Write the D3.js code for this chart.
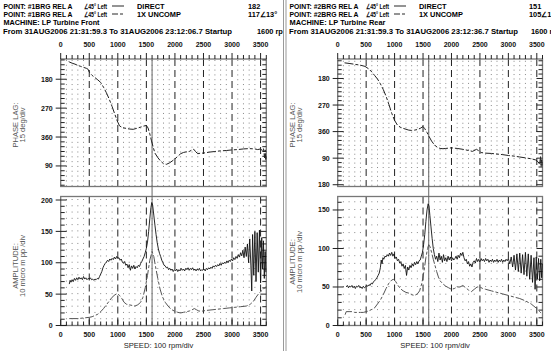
<!DOCTYPE html>
<html><head><meta charset="utf-8">
<script src="https://cdn.jsdelivr.net/npm/d3@7"></script>
<style>
body{margin:0;background:#fff;}
svg{display:block;}
text{font-family:"Liberation Sans",Arial,sans-serif;}
</style></head>
<body><svg id="c" width="551" height="351"></svg>
<script>
// ---------------- DATA ----------------
const rpmTicks = [0,500,1000,1500,2000,2500,3000,3500];
const rpmMax = 3600;
const cursorRpm = 1600;
const phaseTickValues = [180,270,360,450,540];
const phaseTickLabels = ["180","270","360","90","180"];
const ampTicksLeft = [0,50,100,150,200];
const ampTicksRight = [0,50,100,150];

const hdrPoints = [["POINT: #1BRG REL A","POINT: #1BRG REL A"],["POINT: #2BRG REL A","POINT: #2BRG REL A"]];
const hdrOrient = "∠45° Left";
const hdrSeries = ["DIRECT","1X UNCOMP"];
const hdrValues = [["182","117∠13°"],["151","105∠13°"]];
const hdrMachine = ["MACHINE: LP Turbine Front","MACHINE: LP Turbine Rear"];
const hdrRange = ["From 31AUG2006 21:31:59.3 To 31AUG2006 23:12:06.7 Startup","From 31AUG2006 21:31:59.3 To 31AUG2006 23:12:36.7 Startup"];
const hdrCursor = "1600 rpm";
const phaseTitle = ["PHASE LAG:","15 deg/div"];
const ampTitle = ["AMPLITUDE:","10 micro m pp /div"];
const speedTitle = "SPEED: 100 rpm/div";

// phase lag (continuous degrees, 1X UNCOMP)
const leftPhase = [[140,125],[160,127],[200,130],[250,133],[300,137],[350,140],[400,143],[450,146],[480,149],[500,158],[550,168],[600,175],[650,182],[700,190],[750,205],[800,222],[850,242],[900,265],[950,290],[990,310],[1030,325],[1080,331],[1150,333],[1200,335],[1270,336],[1330,333],[1400,329],[1450,326],[1500,324],[1530,332],[1560,350],[1590,372],[1620,392],[1650,410],[1700,424],[1750,435],[1800,443],[1850,445],[1900,441],[1950,435],[2000,428],[2050,420],[2100,412],[2150,408],[2200,406],[2250,405],[2300,400],[2330,398],[2360,405],[2400,412],[2450,410],[2500,410],[2600,407],[2700,405],[2800,403],[2900,402],[3000,400],[3100,399],[3200,397],[3300,396],[3400,397],[3450,399],[3500,397],[3530,402],[3550,395],[3570,425],[3580,400],[3590,430],[3600,415]];
const rightPhase = [[120,127],[200,129],[300,132],[400,135],[480,139],[550,148],[600,158],[650,170],[700,182],[750,198],[800,217],[850,240],[900,268],[950,298],[1000,322],[1050,338],[1100,345],[1150,349],[1200,352],[1250,355],[1300,356],[1350,355],[1400,353],[1450,349],[1500,343],[1530,350],[1570,363],[1610,378],[1650,392],[1700,405],[1750,413],[1800,417],[1850,418],[1900,417],[2000,415],[2100,417],[2200,420],[2300,424],[2370,427],[2440,420],[2480,425],[2520,431],[2600,433],[2700,434],[2800,436],[2900,438],[3000,441],[3100,443],[3200,446],[3300,449],[3400,452],[3480,456],[3520,462],[3550,470],[3565,445],[3575,480],[3585,455],[3595,475]];

// amplitude DIRECT (solid) and 1X UNCOMP (dashed)
const leftDirect = [[150,66],[165,72],[180,69],[200,73],[220,70],[240,75],[260,72],[280,76],[300,73],[320,77],[340,74],[360,76],[380,73],[400,78],[420,74],[440,76],[460,73],[480,75],[500,74],[520,76],[540,73],[560,74],[580,72],[600,74],[620,73],[640,75],[660,74],[680,78],[700,82],[720,86],[740,92],[760,96],[780,99],[800,101],[820,104],[840,102],[860,106],[880,104],[900,107],[920,105],[940,109],[960,106],[980,110],[1000,107],[1020,108],[1040,104],[1060,106],[1080,101],[1100,99],[1120,102],[1140,96],[1160,98],[1180,92],[1200,97],[1220,88],[1240,95],[1260,91],[1280,96],[1300,90],[1320,94],[1340,92],[1360,96],[1380,94],[1400,99],[1420,102],[1440,106],[1460,110],[1480,116],[1500,123],[1520,133],[1540,150],[1560,170],[1580,188],[1595,196],[1610,192],[1630,176],[1650,160],[1670,145],[1690,132],[1710,122],[1730,115],[1750,110],[1770,104],[1790,100],[1810,96],[1830,95],[1850,92],[1870,93],[1890,89],[1910,91],[1930,88],[1950,90],[1970,86],[1990,89],[2010,87],[2030,90],[2050,86],[2070,89],[2090,87],[2110,91],[2130,88],[2150,90],[2170,87],[2190,91],[2210,89],[2230,92],[2250,88],[2270,91],[2290,89],[2310,92],[2330,88],[2350,90],[2370,87],[2390,90],[2410,88],[2430,91],[2450,87],[2470,89],[2490,88],[2510,90],[2530,87],[2550,91],[2570,89],[2590,92],[2610,90],[2630,93],[2650,91],[2670,95],[2690,93],[2710,96],[2730,94],[2750,97],[2770,95],[2790,99],[2810,96],[2830,100],[2850,98],[2870,101],[2890,99],[2910,103],[2930,100],[2950,104],[2970,102],[2990,106],[3010,103],[3030,108],[3050,105],[3070,110],[3090,107],[3110,113],[3130,109],[3150,116],[3170,111],[3190,120],[3210,108],[3230,125],[3250,110],[3270,130],[3290,100],[3310,138],[3330,95],[3345,55],[3360,145],[3380,80],[3400,150],[3420,70],[3440,148],[3460,85],[3480,152],[3500,68],[3520,140],[3535,90],[3550,135],[3565,75],[3580,118],[3592,85]];
const leftUncomp = [[150,11],[200,11],[300,11],[400,12],[500,13],[550,14],[600,16],[650,18],[700,22],[750,27],[800,33],[850,39],[900,45],[950,49],[990,51],[1030,48],[1070,43],[1110,37],[1150,34],[1200,33],[1250,32],[1300,31],[1350,33],[1400,37],[1440,45],[1480,60],[1520,80],[1560,104],[1600,118],[1630,110],[1660,94],[1700,75],[1740,58],[1780,46],[1830,37],[1880,31],[1930,26],[1990,23],[2050,21],[2100,20],[2150,21],[2200,22],[2250,23],[2300,25],[2340,27],[2380,25],[2420,23],[2480,23],[2550,24],[2650,25],[2750,26],[2850,27],[2950,28],[3050,29],[3150,30],[3250,31],[3320,34],[3370,38],[3420,45],[3460,50],[3500,54],[3540,57],[3570,60],[3600,62]];
const rightDirect = [[150,50],[170,52],[190,49],[210,51],[230,50],[250,52],[270,49],[290,51],[310,48],[330,51],[350,50],[370,52],[390,49],[410,50],[430,48],[450,51],[470,49],[490,50],[510,52],[530,51],[550,53],[570,52],[590,55],[610,54],[630,57],[650,58],[670,60],[690,62],[710,65],[730,68],[750,75],[765,85],[780,80],[795,88],[810,86],[830,90],[850,89],[870,92],[890,90],[910,94],[930,91],[950,95],[970,90],[990,93],[1010,87],[1030,89],[1050,84],[1070,86],[1090,81],[1110,83],[1130,77],[1150,80],[1170,74],[1190,78],[1210,65],[1230,76],[1250,72],[1270,78],[1290,75],[1310,80],[1330,77],[1350,82],[1370,79],[1390,83],[1410,80],[1430,84],[1450,85],[1470,90],[1490,95],[1510,105],[1530,118],[1550,135],[1570,150],[1590,158],[1605,155],[1620,143],[1640,128],[1660,113],[1680,100],[1700,92],[1720,86],[1740,90],[1760,83],[1780,94],[1800,85],[1820,90],[1840,82],[1860,92],[1880,84],[1900,88],[1920,83],[1940,90],[1960,85],[1980,89],[2000,84],[2020,88],[2040,85],[2060,87],[2080,90],[2100,86],[2120,91],[2140,88],[2160,94],[2180,91],[2200,95],[2220,88],[2240,84],[2260,86],[2280,80],[2300,83],[2320,77],[2340,80],[2360,76],[2380,82],[2400,84],[2420,81],[2440,87],[2460,83],[2480,86],[2500,82],[2520,87],[2540,84],[2560,86],[2580,83],[2600,87],[2620,84],[2640,86],[2660,82],[2680,85],[2700,83],[2720,86],[2740,82],[2760,85],[2780,83],[2800,86],[2820,82],[2840,85],[2860,83],[2880,86],[2900,82],[2920,85],[2940,83],[2960,86],[2980,84],[3000,87],[3025,80],[3050,89],[3075,76],[3100,91],[3125,72],[3150,93],[3175,70],[3200,94],[3225,68],[3250,92],[3275,66],[3300,95],[3325,64],[3350,93],[3375,60],[3400,91],[3425,56],[3450,88],[3470,47],[3490,89],[3510,60],[3530,87],[3550,58],[3570,86],[3585,62],[3597,80]];
const rightUncomp = [[130,14],[150,18],[200,18],[250,18],[300,17],[350,17],[400,17],[450,17],[500,18],[550,19],[600,21],[650,23],[700,28],[750,33],[800,40],[850,48],[900,55],[950,59],[980,60],[1020,57],[1060,52],[1100,48],[1150,45],[1200,43],[1250,42],[1300,40],[1350,39],[1400,41],[1440,45],[1480,55],[1520,72],[1550,88],[1580,100],[1600,105],[1625,102],[1650,95],[1680,86],[1710,78],[1740,70],[1770,63],[1800,58],[1850,54],[1900,51],[1950,49],[2000,47],[2050,48],[2100,50],[2150,50],[2200,52],[2250,49],[2300,46],[2350,44],[2400,47],[2450,50],[2500,50],[2550,48],[2600,47],[2700,45],[2800,43],[2900,41],[3000,39],[3100,37],[3200,35],[3300,32],[3400,28],[3450,25],[3500,22],[3550,18],[3590,15]];

// ---------------- DRAW ----------------
const svg = d3.select("#c");
const defs = svg.append("defs");
defs.append("clipPath").attr("id","clipL").append("rect").attr("x",0).attr("y",0).attr("width",283).attr("height",351);
defs.append("clipPath").attr("id","clipR").append("rect").attr("x",287).attr("y",0).attr("width",264).attr("height",351);

const panels = [
  {clip:"clipL", x0:60.7, x1:266.3, phaseDomain:[117,514], ampMax:205.6, ampTicks:ampTicksLeft,
   phase:leftPhase, direct:leftDirect, uncomp:leftUncomp, idx:0,
   hx:{point:3.5, orient:84, sw:112, ser:137, val:248, cur:257}, titleX:[17.5,24.5], ampTitleY:266, phaseTitleY:125},
  {clip:"clipR", x0:337.7, x1:542.5, phaseDomain:[114,546], ampMax:167.5, ampTicks:ampTicksRight,
   phase:rightPhase, direct:rightDirect, uncomp:rightUncomp, idx:1,
   hx:{point:289.5, orient:366, sw:394, ser:419, val:529, cur:531}, titleX:[294.5,301.5], ampTitleY:262, phaseTitleY:125}
];

const TOP0=59, TOP1=186.5, BOT0=196.5, BOT1=325.5;
const HROWS=[8.5,16.5,25,33.5];

panels.forEach(p => {
  const g = svg.append("g").attr("clip-path",`url(#${p.clip})`);
  const x = d3.scaleLinear().domain([0,rpmMax]).range([p.x0,p.x1]);
  const yP = d3.scaleLinear().domain(p.phaseDomain).range([TOP0,TOP1]);
  const yA = d3.scaleLinear().domain([0,p.ampMax]).range([BOT1,BOT0]);

  // header
  const H = g.append("g").attr("font-size",7.4).attr("font-weight","bold").attr("fill","#000");
  [0,1].forEach(i => {
    const yy = HROWS[i];
    H.append("text").attr("x",p.hx.point).attr("y",yy).attr("textLength",69).attr("lengthAdjust","spacingAndGlyphs").text(hdrPoints[p.idx][i]);
    H.append("text").attr("x",p.hx.orient).attr("y",yy).attr("textLength",23).attr("lengthAdjust","spacingAndGlyphs").text(hdrOrient);
    H.append("text").attr("x",p.hx.ser).attr("y",yy).text(hdrSeries[i]);
    H.append("text").attr("x",p.hx.val).attr("y",yy).text(hdrValues[p.idx][i]);
    g.append("line").attr("x1",p.hx.sw).attr("x2",p.hx.sw+12).attr("y1",yy-2.5).attr("y2",yy-2.5)
      .attr("stroke","#111").attr("stroke-width",0.9).attr("stroke-dasharray", i===0?null:"6,2,3,2");
  });
  H.append("text").attr("x",p.hx.point).attr("y",HROWS[2]).attr("textLength",96).attr("lengthAdjust","spacingAndGlyphs").text(hdrMachine[p.idx]);
  H.append("text").attr("x",p.hx.point-0.5).attr("y",HROWS[3]).attr("textLength",229).attr("lengthAdjust","spacingAndGlyphs").text(hdrRange[p.idx]);
  H.append("text").attr("x",p.hx.cur).attr("y",HROWS[3]).text(hdrCursor);

  // dotted minor grid
  const minorRpm = d3.range(100,rpmMax,100).filter(v => v%500!==0);
  const stepP = Math.abs(yP(15)-yP(0)), stepA = Math.abs(yA(10)-yA(0));
  const firstP = Math.ceil(p.phaseDomain[0]/15)*15;
  g.append("g").selectAll("line").data(minorRpm).join("line")
    .attr("x1",d=>x(d)).attr("x2",d=>x(d)).attr("y1",yP(firstP)).attr("y2",TOP1)
    .attr("stroke","#888").attr("stroke-width",1).attr("stroke-dasharray",`1,${stepP-1}`);
  g.append("g").selectAll("line").data(minorRpm).join("line")
    .attr("x1",d=>x(d)).attr("x2",d=>x(d)).attr("y1",BOT1).attr("y2",BOT0)
    .attr("stroke","#888").attr("stroke-width",1).attr("stroke-dasharray",`1,${stepA-1}`);

  // dashed major verticals
  [[TOP0,TOP1],[BOT0,BOT1]].forEach(([a,b]) => {
    g.append("g").selectAll("line").data(rpmTicks.filter(v=>v>0)).join("line")
      .attr("x1",d=>x(d)).attr("x2",d=>x(d)).attr("y1",a).attr("y2",b)
      .attr("stroke","#222").attr("stroke-width",1).attr("stroke-dasharray","7,4");
  });

  // frames
  [[TOP0,TOP1],[BOT0,BOT1]].forEach(([a,b]) => {
    g.append("rect").attr("x",p.x0).attr("y",a).attr("width",p.x1-p.x0).attr("height",b-a)
      .attr("fill","none").attr("stroke","#777").attr("stroke-width",1.3);
  });

  // top axis ticks & labels
  const allRpm = d3.range(0,rpmMax+1,100);
  g.append("g").selectAll("line").data(allRpm).join("line")
    .attr("x1",d=>x(d)).attr("x2",d=>x(d)).attr("y1",TOP0).attr("y2",d=>TOP0-(d%500===0?6:4))
    .attr("stroke","#222").attr("stroke-width",1);
  g.append("g").selectAll("text").data(rpmTicks).join("text")
    .attr("x",d=>x(d)).attr("y",46.5).attr("text-anchor","middle")
    .attr("font-size",7).attr("font-weight","bold").attr("fill","#111").text(d=>d);
  // bottom axis ticks & labels
  g.append("g").selectAll("line").data(allRpm).join("line")
    .attr("x1",d=>x(d)).attr("x2",d=>x(d)).attr("y1",BOT1).attr("y2",d=>BOT1-(d%500===0?6:4))
    .attr("stroke","#222").attr("stroke-width",1);
  g.append("g").selectAll("text").data(rpmTicks).join("text")
    .attr("x",d=>x(d)).attr("y",337).attr("text-anchor","middle")
    .attr("font-size",7).attr("font-weight","bold").attr("fill","#111").text(d=>d);

  // phase y ticks
  const phMinor = d3.range(firstP, p.phaseDomain[1]+0.1, 15);
  g.append("g").selectAll("line").data(phMinor).join("line")
    .attr("x1",d=>phaseTickValues.includes(d)?p.x0-5:p.x0).attr("x2",d=>p.x0+(phaseTickValues.includes(d)?6:4))
    .attr("y1",d=>yP(d)).attr("y2",d=>yP(d)).attr("stroke","#222").attr("stroke-width",1);
  g.append("g").selectAll("line").data(phMinor).join("line")
    .attr("x1",p.x1).attr("x2",d=>p.x1-(phaseTickValues.includes(d)?6:4))
    .attr("y1",d=>yP(d)).attr("y2",d=>yP(d)).attr("stroke","#222").attr("stroke-width",1);
  g.append("g").selectAll("text").data(phaseTickValues.filter(v=>v<=p.phaseDomain[1])).join("text")
    .attr("x",p.x0-8).attr("y",d=>yP(d)+2.5).attr("text-anchor","end")
    .attr("font-size",7).attr("font-weight","bold").attr("fill","#111")
    .text(d=>phaseTickLabels[phaseTickValues.indexOf(d)]);

  // amplitude y ticks
  const amMinor = d3.range(0,p.ampMax,10);
  g.append("g").selectAll("line").data(amMinor).join("line")
    .attr("x1",d=>d%50===0?p.x0-5:p.x0).attr("x2",d=>p.x0+(d%50===0?6:4))
    .attr("y1",d=>yA(d)).attr("y2",d=>yA(d)).attr("stroke","#222").attr("stroke-width",1);
  g.append("g").selectAll("line").data(amMinor).join("line")
    .attr("x1",p.x1).attr("x2",d=>p.x1-(d%50===0?6:4))
    .attr("y1",d=>yA(d)).attr("y2",d=>yA(d)).attr("stroke","#222").attr("stroke-width",1);
  g.append("g").selectAll("text").data(p.ampTicks).join("text")
    .attr("x",p.x0-8).attr("y",d=>yA(d)+2.5).attr("text-anchor","end")
    .attr("font-size",7).attr("font-weight","bold").attr("fill","#111").text(d=>d);

  // axis titles
  [[phaseTitle,p.phaseTitleY],[ampTitle,p.ampTitleY]].forEach(([t,cy]) => {
    t.forEach((s,i) => {
      g.append("text").attr("transform",`translate(${p.titleX[i]},${cy}) rotate(-90)`)
        .attr("text-anchor","middle").attr("font-size",7.6).attr("fill","#555").text(s);
    });
  });
  g.append("text").attr("x",(p.x0+p.x1)/2-5).attr("y",347.5).attr("text-anchor","middle")
    .attr("font-size",7.6).attr("fill","#222").text(speedTitle);

  // cursor
  g.append("line").attr("x1",x(cursorRpm)).attr("x2",x(cursorRpm)).attr("y1",TOP0).attr("y2",BOT1)
    .attr("stroke","#666").attr("stroke-width",1);

  // series
  const lineP = d3.line().x(d=>x(d[0])).y(d=>yP(d[1]));
  const lineA = d3.line().x(d=>x(d[0])).y(d=>yA(d[1]));
  g.append("path").datum(p.phase).attr("d",lineP).attr("fill","none")
    .attr("stroke","#222").attr("stroke-width",1).attr("stroke-dasharray","9,2,3,2");
  g.append("path").datum(p.uncomp).attr("d",lineA).attr("fill","none")
    .attr("stroke","#555").attr("stroke-width",1).attr("stroke-dasharray","9,2,3,2");
  g.append("path").datum(p.direct).attr("d",lineA).attr("fill","none")
    .attr("stroke","#111").attr("stroke-width",0.9);
});

// divider
[283.5,286].forEach(xx => svg.append("line").attr("x1",xx).attr("x2",xx).attr("y1",0).attr("y2",351)
  .attr("stroke","#999").attr("stroke-width",1));
</script></body></html>
